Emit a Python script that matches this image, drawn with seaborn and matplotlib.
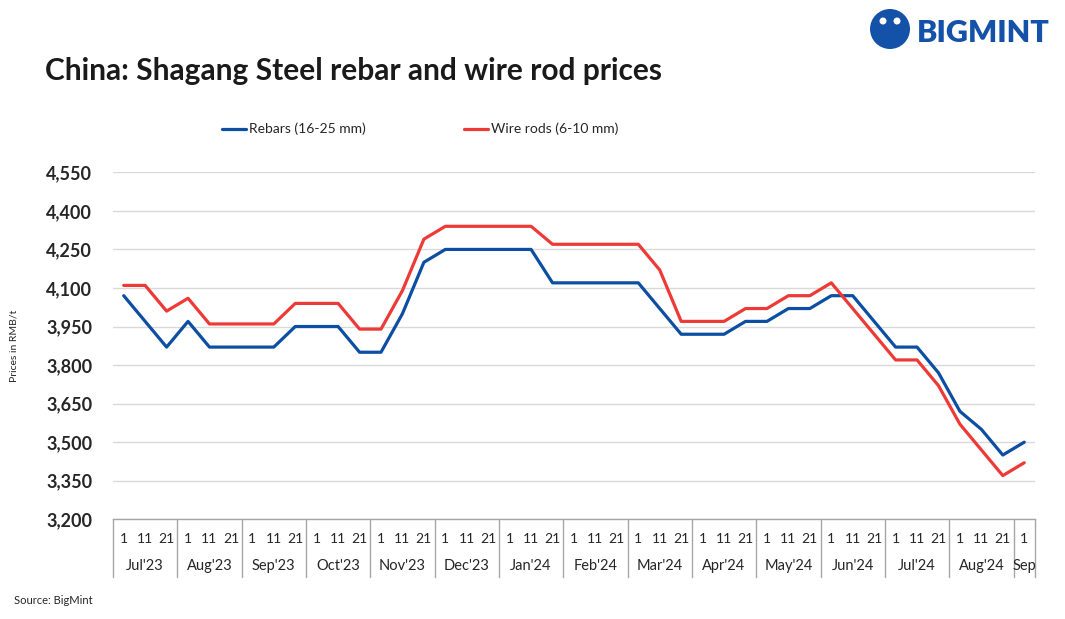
import numpy as np
import pandas as pd
import matplotlib
matplotlib.use('Agg')
import matplotlib.pyplot as plt
import matplotlib.transforms as mtransforms
from matplotlib.patches import Ellipse
import seaborn as sns

# ---------- data ----------
months = ["Jul'23", "Aug'23", "Sep'23", "Oct'23", "Nov'23", "Dec'23", "Jan'24",
          "Feb'24", "Mar'24", "Apr'24", "May'24", "Jun'24", "Jul'24", "Aug'24", "Sep"]
days = ["1", "11", "21"]

rebars = [4070, 3970, 3870, 3970, 3870, 3870, 3870, 3870, 3950, 3950,
          3950, 3850, 3850, 4000, 4200, 4250, 4250, 4250, 4250, 4250,
          4120, 4120, 4120, 4120, 4120, 4020, 3920, 3920, 3920, 3970,
          3970, 4020, 4020, 4070, 4070, 3970, 3870, 3870, 3770, 3620,
          3550, 3450, 3500]
wire_rods = [4110, 4110, 4010, 4060, 3960, 3960, 3960, 3960, 4040, 4040,
             4040, 3940, 3940, 4090, 4290, 4340, 4340, 4340, 4340, 4340,
             4270, 4270, 4270, 4270, 4270, 4170, 3970, 3970, 3970, 4020,
             4020, 4070, 4070, 4120, 4020, 3920, 3820, 3820, 3720, 3570,
             3470, 3370, 3420]

y_ticks = [3200, 3350, 3500, 3650, 3800, 3950, 4100, 4250, 4400, 4550]

n = len(rebars)
day_labels = [days[i % 3] for i in range(n)]

df = pd.DataFrame({
    'pos': list(range(n)) * 2,
    'price': rebars + wire_rods,
    'series': ['Rebars (16-25 mm)'] * n + ['Wire rods (6-10 mm)'] * n,
})

# ---------- style ----------
sns.set_style('white')
plt.rcParams['font.family'] = ['Lato', 'DejaVu Sans']

blue = '#0B4EA2'
red = '#EE3A36'
grid_c = '#D9D9D9'
axis_c = '#A6A6A6'

fig = plt.figure(figsize=(10.65, 6.19), dpi=100)
ax = fig.add_axes([0.1061, 0.1611, 0.8657, 0.5605])

sns.lineplot(data=df, x='pos', y='price', hue='series',
             palette=[blue, red], linewidth=2.3, ax=ax, legend=False)

ax.set_xlim(-0.5, n - 0.5)
ax.set_ylim(3200, 4550)
ax.set_yticks(y_ticks)
ax.set_yticklabels([f'{v:,}' for v in y_ticks], fontsize=13, fontweight='bold',
                   color='#262626')
ax.yaxis.grid(True, color=grid_c, linewidth=1)
ax.set_axisbelow(True)
ax.tick_params(axis='y', length=0, pad=15)

ax.set_xticks(range(n))
ax.set_xticklabels(day_labels, fontsize=10, color='#262626')
ax.tick_params(axis='x', length=0, pad=10)
ax.set_xlabel('')
ax.set_ylabel('Prices in RMB/t', fontsize=7.5, color='#262626', labelpad=20)

for s in ['top', 'right', 'left']:
    ax.spines[s].set_visible(False)
ax.spines['bottom'].set_color(axis_c)
ax.spines['bottom'].set_linewidth(1)

# month labels and separators
trans = mtransforms.blended_transform_factory(ax.transData, ax.transAxes)
for k, m in enumerate(months):
    start = 3 * k
    end = min(3 * k + 2, n - 1)
    ax.text((start + end) / 2, -0.135, m, transform=trans, ha='center', va='center',
            fontsize=10.5, color='#262626')
bounds = [-0.5 + 3 * k for k in range(15)] + [n - 0.5]
for b in bounds:
    ax.plot([b, b], [0, -0.166], transform=trans, color=axis_c, lw=1, clip_on=False)

# title, legend, source, logo
fig.text(0.042, 0.885, 'China: Shagang Steel rebar and wire rod prices',
         fontsize=21.5, fontweight='bold', color='#1a1a1a', va='center')

fig.lines.append(plt.Line2D([222 / 1065, 246 / 1065], [1 - 129 / 619] * 2,
                            transform=fig.transFigure, color=blue, lw=2.3))
fig.text(249 / 1065, 1 - 129 / 619, 'Rebars (16-25 mm)', fontsize=10,
         color='#262626', va='center')
fig.lines.append(plt.Line2D([464 / 1065, 488 / 1065], [1 - 129 / 619] * 2,
                            transform=fig.transFigure, color=red, lw=2.3))
fig.text(491 / 1065, 1 - 129 / 619, 'Wire rods (6-10 mm)', fontsize=10,
         color='#262626', va='center')

fig.text(14 / 1065, 1 - 601 / 619, 'Source: BigMint', fontsize=8, color='#262626',
         va='center')

logo_c = '#1451A8'
fig.patches.append(Ellipse((890 / 1065, 1 - 29 / 619), 40 / 1065, 40 / 619,
                           transform=fig.transFigure, facecolor=logo_c,
                           edgecolor='none'))
fig.patches.append(Ellipse((883 / 1065, 1 - 21 / 619), 7 / 1065, 7 / 619,
                           transform=fig.transFigure, facecolor='white',
                           edgecolor='none'))
fig.patches.append(Ellipse((897 / 1065, 1 - 21 / 619), 7 / 1065, 7 / 619,
                           transform=fig.transFigure, facecolor='white',
                           edgecolor='none'))
fig.text(917 / 1065, 1 - 33 / 619, 'BIGMINT', fontsize=22, fontweight='heavy',
         color=logo_c, va='center')

fig.savefig('out.png', dpi=100)
